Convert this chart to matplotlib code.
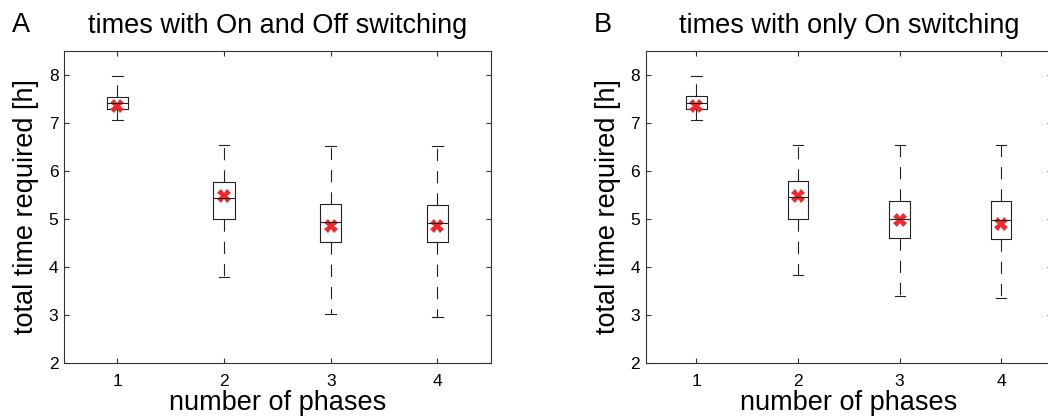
import numpy as np
import matplotlib
matplotlib.use('Agg')
import matplotlib.pyplot as plt

plt.rcParams['font.family'] = ['Liberation Sans', 'DejaVu Sans']

phases = [1, 2, 3, 4]

# panel A: on and off switching
a_low  = [7.05, 3.80, 3.02, 2.97]
a_q1   = [7.29, 5.00, 4.53, 4.52]
a_med  = [7.42, 5.43, 4.94, 4.92]
a_q3   = [7.54, 5.76, 5.31, 5.29]
a_high = [7.97, 6.53, 6.52, 6.52]
a_mean = [7.35, 5.47, 4.86, 4.85]

# panel B: only on switching
b_low  = [7.05, 3.83, 3.40, 3.35]
b_q1   = [7.29, 5.01, 4.61, 4.59]
b_med  = [7.42, 5.45, 5.00, 4.98]
b_q3   = [7.55, 5.79, 5.38, 5.37]
b_high = [7.97, 6.54, 6.53, 6.53]
b_mean = [7.34, 5.47, 4.97, 4.90]

titles = ['times with On and Off switching', 'times with only On switching']
letters = ['A', 'B']

W, H = 1048, 416
fig = plt.figure(figsize=(W / 100, H / 100), dpi=100)

def px_axes(x0, y0, x1, y1):
    return fig.add_axes([x0 / W, 1 - y1 / H, (x1 - x0) / W, (y1 - y0) / H])

ax_a = px_axes(64, 50.7, 490.7, 363.3)
ax_b = px_axes(645.7, 50.7, 1052, 363.3)

def draw_panel(ax, low, q1, med, q3, high, mean, title):
    stats = []
    for i in range(len(phases)):
        stats.append(dict(whislo=low[i], q1=q1[i], med=med[i], q3=q3[i],
                          whishi=high[i], fliers=[]))
    line = dict(color='#222222', linewidth=0.8)
    ax.bxp(stats, positions=phases, widths=0.2, showfliers=False,
           boxprops=line, medianprops=line, capprops=line,
           whiskerprops=dict(color='#222222', linewidth=0.8,
                             linestyle=(0, (11, 9))),
           capwidths=0.1, manage_ticks=False)
    ax.plot(phases, mean, linestyle='none', marker='X', markersize=10,
            color='#f0282c', markeredgewidth=0)
    ax.set_xlim(0.5, 4.5)
    ax.set_ylim(2, 8.5)
    ax.set_xticks(phases)
    ax.set_yticks(range(2, 9))
    ax.tick_params(direction='in', length=3.5, width=0.8, top=True, right=True,
                   labelsize=12.5, color='#333333')
    ax.tick_params(axis='x', pad=7.5)
    ax.tick_params(axis='y', pad=4)
    for s in ax.spines.values():
        s.set_color('#333333')
        s.set_linewidth(0.8)
    ax.set_title(title, fontsize=19.5, pad=12.5)
    ax.set_xlabel('number of phases', fontsize=19.5)
    ax.set_ylabel('total time required [h]', fontsize=19.5)

draw_panel(ax_a, a_low, a_q1, a_med, a_q3, a_high, a_mean, titles[0])
draw_panel(ax_b, b_low, b_q1, b_med, b_q3, b_high, b_mean, titles[1])

ax_a.xaxis.set_label_coords(0.5, -0.087)
ax_b.xaxis.set_label_coords(0.5, -0.087)
ax_a.yaxis.set_label_coords(-0.059, 0.5)
ax_b.yaxis.set_label_coords(-0.062, 0.5)

fig.text(12 / W, 1 - 32 / H, letters[0], fontsize=19.5, va='baseline')
fig.text(594 / W, 1 - 32 / H, letters[1], fontsize=19.5, va='baseline')

fig.savefig('out.png', dpi=100)
